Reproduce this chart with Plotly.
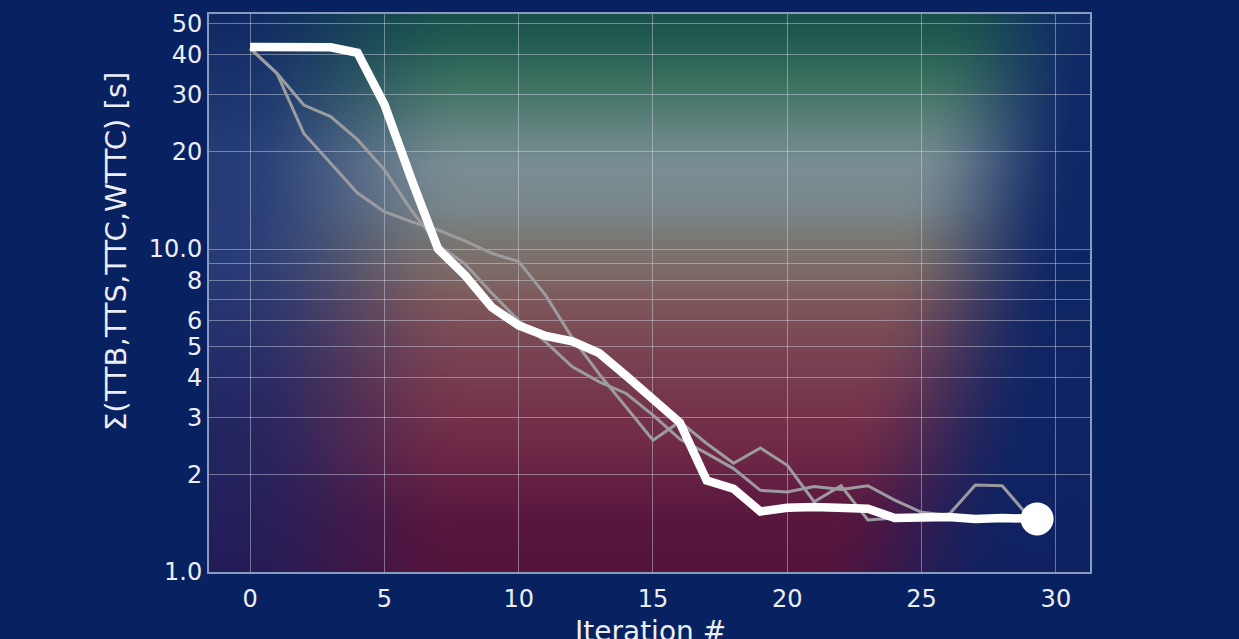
import base64
import struct
import zlib

import numpy as np
import plotly.graph_objects as go

# ---------------------------------------------------------------- data
iterations = list(range(30))
best_x = list(range(29)) + [29.3]
best_total = [42.2, 42.2, 42.2, 42.1, 40.5, 28.0, 16.5, 10.0, 8.3, 6.6,
              5.8, 5.38, 5.18, 4.76, 4.05, 3.45, 2.9, 1.92, 1.81, 1.54,
              1.58, 1.59, 1.57, 1.57, 1.47, 1.48, 1.48, 1.46, 1.47, 1.46]
run_a = [41.8, 35.0, 27.9, 25.7, 21.8, 17.6, 13.2, 10.3, 9.0, 7.3,
         6.0, 5.16, 4.32, 3.88, 3.57, 3.06, 2.58, 2.33, 2.09, 1.79,
         1.77, 1.84, 1.80, 1.85, 1.67, 1.53, 1.50, 1.86, 1.85, 1.48]
run_b = [41.8, 35.0, 22.8, 18.4, 14.9, 13.05, 12.15, 11.45, 10.6, 9.70,
         9.14, 7.2, 5.3, 4.1, 3.25, 2.56, 2.92, 2.50, 2.17, 2.42,
         2.14, 1.65, 1.85, 1.45, 1.47, 1.47, 1.47, 1.46, 1.46, 1.46]

x_ticks = [0, 5, 10, 15, 20, 25, 30]
y_grid = [1, 2, 3, 4, 5, 6, 7, 8, 9, 10, 20, 30, 40, 50]
y_labels = ["1.0", "2", "3", "4", "5", "6", "", "8", "", "10.0", "20", "30", "40", "50"]

x_title = "Iteration #"
y_title = "Σ(TTB,TTS,TTC,WTTC) [s]"

# ---------------------------------------------------------------- layout geometry
W, H = 1239, 639
ML, MR, MT, MB = 209, 149, 14, 67
PW, PH = W - ML - MR, H - MT - MB
NAVY = (8, 33, 96)


def smoothstep(t):
    t = np.clip(t, 0.0, 1.0)
    return t * t * (3 - 2 * t)


def interp_rgb(pos, stops, colors):
    colors = np.asarray(colors, dtype=float)
    return np.stack([np.interp(pos, stops, colors[:, k]) for k in range(3)], axis=-1)


def png_data_uri(rgb):
    h, w, _ = rgb.shape
    raw = b"".join(b"\x00" + rgb[i].tobytes() for i in range(h))

    def chunk(tag, data):
        body = tag + data
        return struct.pack(">I", len(data)) + body + struct.pack(">I", zlib.crc32(body) & 0xFFFFFFFF)

    png = (b"\x89PNG\r\n\x1a\n"
           + chunk(b"IHDR", struct.pack(">IIBBBBB", w, h, 8, 2, 0, 0, 0))
           + chunk(b"IDAT", zlib.compress(raw, 9))
           + chunk(b"IEND", b""))
    return "data:image/png;base64," + base64.b64encode(png).decode()


def paper_x(px):
    return (px - ML) / PW


def paper_y(py):
    return (H - MB - py) / PH


# ---------------------------------------------------------------- plot-area glow
ys = MT + np.arange(PH) + 0.5
xs = ML + np.arange(PW) + 0.5
Y, X = np.meshgrid(ys, xs, indexing="ij")

band_stops = [14, 45, 85, 125, 165, 205, 240, 275, 305, 345, 400, 455, 490, 525, 572]
band_colors = [(26, 80, 76), (36, 94, 82), (62, 114, 98), (95, 130, 125), (122, 142, 148),
               (122, 136, 140), (122, 120, 116), (126, 104, 100), (126, 86, 90), (122, 70, 84),
               (118, 54, 76), (110, 40, 70), (98, 30, 66), (88, 22, 62), (84, 20, 60)]
centre = interp_rgb(Y, band_stops, band_colors)

left_edge = interp_rgb(Y, [14, 150, 260, 400, 572],
                       [(16, 40, 100), (36, 60, 120), (40, 60, 120), (36, 40, 100), (36, 28, 88)])
right_edge = interp_rgb(Y, [14, 572], [(16, 42, 104), (14, 34, 98)])
s = ((X - ML) / PW)[..., None]
edge = left_edge * (1 - s) + right_edge * s

w_left = smoothstep((X - 214) / (470 - 214))
inner = np.interp(Y, [14, 300, 572], [940, 880, 810])
outer = np.interp(Y, [14, 300, 572], [1100, 1060, 1000])
w_right = smoothstep((outer - X) / (outer - inner))
wgt = (w_left * w_right)[..., None]

glow = np.clip(edge * (1 - wgt) + centre * wgt, 0, 255).astype(np.uint8)
glow_src = png_data_uri(glow)

# ---------------------------------------------------------------- figure
fig = go.Figure()

for run in (run_a, run_b):
    fig.add_trace(go.Scatter(x=iterations, y=run, mode="lines",
                             line=dict(color="rgb(156,156,160)", width=3),
                             hoverinfo="skip"))

fig.add_trace(go.Scatter(x=best_x, y=best_total, mode="lines",
                         line=dict(color="white", width=8.5),
                         hoverinfo="skip"))
fig.add_trace(go.Scatter(x=[best_x[-1]], y=[best_total[-1]], mode="markers",
                         marker=dict(color="white", size=33, line=dict(width=0)),
                         hoverinfo="skip"))

fig.add_layout_image(dict(source=glow_src, xref="x domain", yref="y domain",
                          x=0, y=1, sizex=1, sizey=1, xanchor="left", yanchor="top",
                          sizing="stretch", layer="below"))

grid_col = "rgba(215,220,235,0.45)"
frame_col = "rgba(170,185,215,0.8)"
text_col = "rgb(236,238,245)"

fig.update_layout(
    width=W, height=H,
    margin=dict(l=ML, r=MR, t=MT, b=MB, autoexpand=False),
    paper_bgcolor="rgb(%d,%d,%d)" % NAVY,
    plot_bgcolor="rgba(0,0,0,0)",
    showlegend=False,
    font=dict(family="DejaVu Sans", color=text_col),
)
fig.update_xaxes(
    range=[-1.53, 31.27], tickvals=x_ticks, ticks="", ticklabelstandoff=4,
    automargin=False,
    showgrid=True, gridcolor=grid_col, gridwidth=1, zeroline=False,
    showline=True, mirror=True, linecolor=frame_col, linewidth=2,
    tickfont=dict(size=24, color=text_col),
)
fig.update_yaxes(
    type="log", range=[0, 1.7276], tickvals=y_grid, ticktext=y_labels, ticks="",
    ticklabelstandoff=0, automargin=False,
    showgrid=True, gridcolor=grid_col, gridwidth=1, zeroline=False,
    showline=True, mirror=True, linecolor=frame_col, linewidth=2,
    tickfont=dict(size=24, color=text_col),
)

# axis titles
fig.add_annotation(text=x_title, xref="paper", yref="paper",
                   x=paper_x(650), y=paper_y(613), xanchor="center", yanchor="top",
                   showarrow=False, font=dict(size=28, color=text_col))
fig.add_annotation(text=y_title, xref="paper", yref="paper", textangle=-90,
                   x=paper_x(116), y=paper_y(252), xanchor="center", yanchor="middle",
                   showarrow=False, font=dict(size=29, color=text_col))

fig.write_html("out.html")
